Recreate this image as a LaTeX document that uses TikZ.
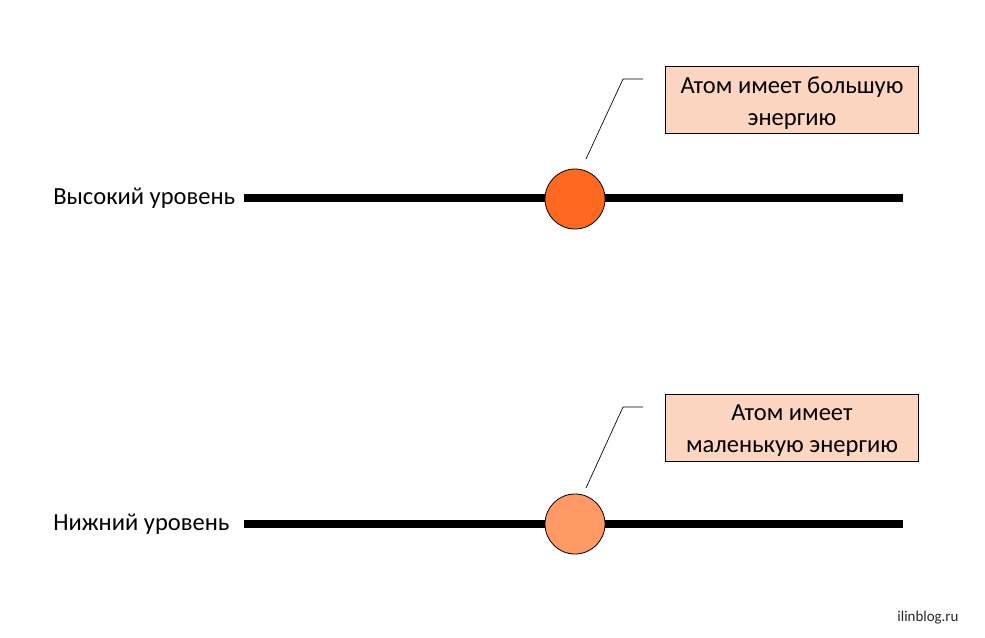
\documentclass[tikz,border=0pt]{standalone}
\usepackage{fontspec}
\setmainfont{Carlito}
\definecolor{hiatom}{HTML}{FF6820}
\definecolor{loatom}{HTML}{FF9966}
\definecolor{boxfill}{HTML}{FDD6C2}
\begin{document}
\begin{tikzpicture}[x=0.75pt,y=-0.75pt,
  level/.style={line width=6pt},
  atom/.style={circle,draw=black,line width=0.6pt,minimum size=45pt,inner sep=0pt},
  note/.style={draw=black,line width=0.6pt,fill=boxfill,minimum width=190pt,minimum height=50pt,inner sep=0pt},
  notetext/.style={align=center,font=\fontsize{18.4pt}{24pt}\selectfont,inner sep=0pt},
  lbl/.style={anchor=west,font=\fontsize{18.4pt}{22pt}\selectfont,inner sep=0pt},
  leader/.style={draw=black,line width=0.5pt}]
\useasboundingbox (0,0) rectangle (985,637);
% top level
\coordinate (t1) at (244,198);
\coordinate (t2) at (903,198);
\draw[level] (t1) -- (t2);
\node[lbl] (tl) at (53,198) {Высокий уровень};
\node[atom,fill=hiatom] (ta) at (575,199) {};
\node[note] (tn) at (792,100) {};
\node[notetext] (tt) at (792,103) {Атом имеет большую\\энергию};
\coordinate (tk1) at (643,79);
\coordinate (tk2) at (623,79);
\coordinate (tk3) at (586,159);
\draw[leader] (tk1) -- (tk2) -- (tk3);
% bottom level
\coordinate (b1) at (244,524);
\coordinate (b2) at (903,524);
\draw[level] (b1) -- (b2);
\node[lbl] (bl) at (53,524) {Нижний уровень};
\node[atom,fill=loatom] (ba) at (575,524) {};
\node[note] (bn) at (792,428) {};
\node[notetext] (bt) at (792,431) {Атом имеет\\маленькую энергию};
\coordinate (bk1) at (643,407);
\coordinate (bk2) at (623,407);
\coordinate (bk3) at (586,488);
\draw[leader] (bk1) -- (bk2) -- (bk3);
\node[font=\fontsize{11.2pt}{13pt}\selectfont,text=black!85] (wm) at (928,618) {ilinblog.ru};
\end{tikzpicture}
\end{document}
